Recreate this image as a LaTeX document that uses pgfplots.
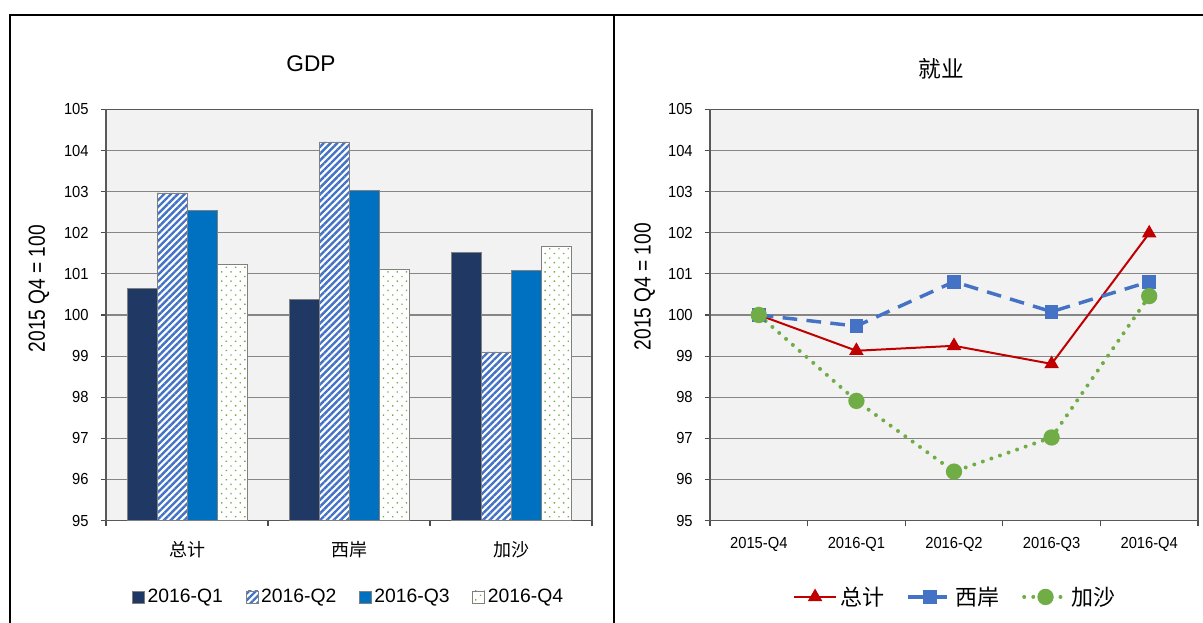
\documentclass[border=0pt]{standalone}
\usepackage{fontspec}
\setmainfont{Liberation Sans}
\newfontfamily\cjk{Noto Sans CJK SC}
\newfontfamily\narrow{Liberation Sans}[FakeStretch=0.82]
\newfontfamily\semi{Liberation Sans}[FakeStretch=0.92]
\usepackage{pgfplots}
\pgfplotsset{compat=1.18}
\usetikzlibrary{patterns.meta}
\definecolor{navy}{RGB}{31,56,100}
\definecolor{midblue}{RGB}{0,112,192}
\definecolor{hatchblue}{RGB}{68,114,196}
\definecolor{dotgreen}{RGB}{112,173,71}
\definecolor{redline}{RGB}{192,0,0}
\definecolor{gridgray}{RGB}{134,134,134}
\definecolor{outl}{RGB}{128,128,128}
\pgfplotsset{
  common/.style={
    scale only axis,
    height=308.25pt,
    ymin=95, ymax=105, ytick={95,96,...,105},
    axis background/.style={fill=black!5},
    ymajorgrids, grid style={draw=gridgray, line width=0.8pt},
    axis line style={draw=black!65, line width=0.8pt},
    tick align=outside, tick pos=left,
    major tick length=4pt, minor tick length=4.5pt,
    tick style={draw=black!70, line width=0.8pt},
    major x tick style={draw=none},
    /pgf/number format/assume math mode=true,
    yticklabel style={font=\semi\fontsize{12}{14}\selectfont, xshift=-5.5pt},
    ylabel={2015 Q4 = 100},
    ylabel style={font=\narrow\fontsize{17.5}{19}\selectfont, anchor=center},
    legend style={draw=none, fill=none, anchor=center, legend columns=-1},
  },
  sqleg/.style={legend image code/.code={\draw[##1,draw=outl,line width=0.6pt] (0pt,-4.5pt) rectangle (9pt,4.5pt);}},
  lineleg/.style={legend image code/.code={\draw[mark repeat=2,mark phase=2,##1] plot coordinates {(0pt,0pt)(16pt,0pt)(32pt,0pt)};}},
}
\begin{document}
\begin{tikzpicture}
\path[use as bounding box] (0,0) rectangle (902.25pt,467.25pt);
\begin{axis}[common,
  at={(79.5pt,76.875pt)}, anchor=south west,
  width=364.5pt,
  xmin=-0.5, xmax=2.5,
  xtick={0,1,2}, minor xtick={-0.5,0.5,1.5,2.5},
  xticklabels={总计,西岸,加沙},
  xticklabel style={font=\cjk\fontsize{13.5}{15}\selectfont, yshift=-8pt},
  ylabel style={at={(axis description cs:-0.138,0.564)}},
  ybar, bar width=0.185,
  legend style={at={(axis description cs:0.5,-0.186)}, font=\fontsize{14.5}{16}\selectfont,
    /tikz/every even column/.append style={column sep=15pt}},
]
\addplot[ybar, bar shift=-0.2778, fill=navy, draw=outl, line width=0.6pt, sqleg]
  coordinates {(0,100.65) (1,100.38) (2,101.52)};
\addplot[ybar, bar shift=-0.0926, fill=white, draw=outl, line width=0.6pt,
  postaction={pattern={Lines[angle=45,distance=3.6pt,line width=1.8pt]}, pattern color=hatchblue}, sqleg]
  coordinates {(0,102.97) (1,104.21) (2,99.1)};
\addplot[ybar, bar shift=0.0926, fill=midblue, draw=outl, line width=0.6pt, sqleg]
  coordinates {(0,102.55) (1,103.04) (2,101.08)};
\addplot[ybar, bar shift=0.2778, fill=white, draw=outl, line width=0.6pt,
  postaction={pattern={Dots[angle=45,distance=4.9pt,radius=0.7pt]}, pattern color=dotgreen}, sqleg]
  coordinates {(0,101.24) (1,101.12) (2,101.68)};
\legend{2016-Q1,2016-Q2,2016-Q3,2016-Q4}
\end{axis}
\begin{axis}[common,
  at={(532.5pt,76.875pt)}, anchor=south west,
  width=366pt,
  xmin=-0.5, xmax=4.5,
  xtick={0,1,2,3,4}, minor xtick={-0.5,0.5,...,4.5},
  xticklabels={2015-Q4,2016-Q1,2016-Q2,2016-Q3,2016-Q4},
  xticklabel style={font=\semi\fontsize{12}{14}\selectfont, yshift=-5pt},
  ylabel style={at={(axis description cs:-0.134,0.569)}},
  legend style={at={(axis description cs:0.503,-0.186)}, font=\cjk\fontsize{16.5}{18}\selectfont,
    /tikz/every even column/.append style={column sep=15pt}},
]
\addplot[redline, line width=1.5pt, mark=triangle*, mark size=4.8pt, lineleg]
  coordinates {(0,100) (1,99.13) (2,99.25) (3,98.81) (4,101.99)};
\addplot[hatchblue, line width=2.6pt, dash pattern=on 11pt off 7pt, mark=square*, mark size=3.8pt,
  mark options={solid}, lineleg]
  coordinates {(0,100) (1,99.73) (2,100.81) (3,100.08) (4,100.81)};
\addplot[dotgreen, line width=3pt, line cap=round, dash pattern=on 0pt off 6.8pt, mark=*, mark size=4.6pt,
  mark options={solid}, lineleg]
  coordinates {(0,100) (1,97.91) (2,96.19) (3,97.02) (4,100.46)};
\legend{总计,西岸,加沙}
\end{axis}
\node[font=\fontsize{17}{19}\selectfont] at (233.25pt,419.7pt) {GDP};
\node[font=\cjk\fontsize{17}{19}\selectfont] at (705.75pt,415.5pt) {就业};
\draw[black, line width=1.5pt] (7.5pt,0pt) -- (7.5pt,456.2pt) -- (902.25pt,456.2pt);
\draw[black, line width=2.2pt] (460.5pt,0pt) -- (460.5pt,456.2pt);
\end{tikzpicture}
\end{document}
